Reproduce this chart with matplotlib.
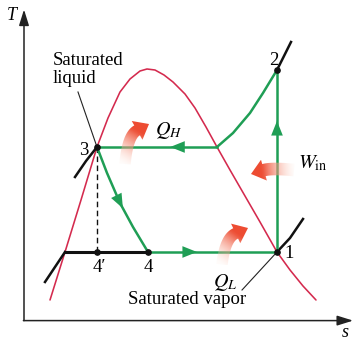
import numpy as np
import matplotlib
matplotlib.use('Agg')
import matplotlib.pyplot as plt
from matplotlib.patches import Polygon

plt.rcParams['font.family'] = ['Liberation Serif', 'DejaVu Serif']
plt.rcParams['mathtext.fontset'] = 'stix'

# ---------------- data (s, T in arbitrary units) ----------------
dome_s = [0.867, 1.367, 1.9, 2.433, 2.8, 3.2, 3.533, 3.867, 4.1, 4.367, 4.667,
          4.967, 5.367, 5.7, 6.067, 6.433, 6.867, 7.367, 7.867, 8.433, 8.867, 9.3, 9.733]
dome_T = [0.667, 2.267, 4.0, 5.767, 6.733, 7.6, 8.033, 8.3, 8.367, 8.333, 8.167,
          7.933, 7.533, 7.067, 6.433, 5.767, 5.0, 4.133, 3.267, 2.267, 1.667, 1.133, 0.667]

T_low, T_high = 2.267, 5.767
s1, T1 = 8.433, T_low
s2, T2 = 8.433, 8.333
s2a = 6.433          # saturated vapor at high pressure
s3 = 2.433
s4 = 4.133
s4p = 2.433
sf_low = 1.367       # saturated liquid at low pressure

superheat_s = [6.433, 6.967, 7.533, 7.967, 8.433]
superheat_T = [5.767, 6.233, 6.9, 7.567, 8.333]
ext_hi_s = [8.433, 8.667, 8.9]
ext_hi_T = [8.333, 8.8, 9.267]
ext_lo_s = [8.433, 8.867, 9.3]
ext_lo_T = [2.267, 2.733, 3.367]
liq_hi_s = [2.433, 2.067, 1.7]
liq_hi_T = [5.767, 5.3, 4.767]
liq_lo_s = [1.367, 0.7]
liq_lo_T = [2.267, 1.267]
throttle_s = [2.433, 2.767, 3.2, 3.633, 4.133]
throttle_T = [5.767, 4.9, 3.9, 3.1, 2.267]

point_labels = ['1', '2', '3', '4', '4\u2032']

GREEN = '#1f9e55'
RED = '#d42a4e'

fig = plt.figure(figsize=(3.59, 3.42), dpi=100)
ax = fig.add_axes([0, 0, 1, 1])
XL = (-0.8, 11.1667)
YL = (-0.7333, 10.6667)


def bezier(p0, p1, p2, n=40):
    t = np.linspace(0, 1, n)[:, None]
    return (1 - t) ** 2 * p0 + 2 * (1 - t) * t * p1 + t ** 2 * p2


def grad_arrow(ax, tail, ctrl, tip, ws, wh, hl, z=6):
    tail, ctrl, tip = (np.asarray(a, float) for a in (tail, ctrl, tip))
    d = tip - ctrl
    d /= np.linalg.norm(d)
    base = tip - d * hl
    pts = bezier(tail, ctrl, base)
    tang = np.gradient(pts, axis=0)
    tang /= np.linalg.norm(tang, axis=1)[:, None]
    nrm = np.stack([-tang[:, 1], tang[:, 0]], axis=1)
    left = pts + nrm * ws / 2
    right = pts - nrm * ws / 2
    nb = nrm[-1]
    poly = np.vstack([left, base + nb * wh / 2, tip, base - nb * wh / 2, right[::-1]])
    patch = Polygon(poly, closed=True, fc='none', ec='none')
    ax.add_patch(patch)
    xmin, ymin = poly.min(0)
    xmax, ymax = poly.max(0)
    nx, ny = 100, 100
    X, Y = np.meshgrid(np.linspace(xmin, xmax, nx), np.linspace(ymin, ymax, ny))
    v = tip - tail
    proj = ((X - tail[0]) * v[0] + (Y - tail[1]) * v[1]) / (v @ v)
    f = np.clip(proj, 0, 1)
    c0 = np.array([1.0, 0.86, 0.80])
    c1 = np.array([0.93, 0.30, 0.20])
    img = np.zeros((ny, nx, 4))
    for k in range(3):
        img[..., k] = c0[k] + (c1[k] - c0[k]) * np.clip(f * 1.3, 0, 1)
    img[..., 3] = 0.1 + 0.9 * np.clip(f * 1.4, 0, 1)
    im = ax.imshow(img, extent=(xmin, xmax, ymin, ymax), origin='lower',
                   interpolation='bilinear', zorder=z)
    im.set_clip_path(patch)


def path_arrow(ax, xs, ys, frac, color, size=14):
    xs = np.asarray(xs, float)
    ys = np.asarray(ys, float)
    seg = np.hypot(np.diff(xs), np.diff(ys))
    cum = np.concatenate([[0], np.cumsum(seg)])
    L = cum[-1] * frac
    tip = (np.interp(L, cum, xs), np.interp(L, cum, ys))
    back = (np.interp(L - 0.3, cum, xs), np.interp(L - 0.3, cum, ys))
    ax.annotate('', xy=tip, xytext=back,
                arrowprops=dict(arrowstyle='-|>,head_length=0.75,head_width=0.3',
                                color=color, lw=0, shrinkA=0, shrinkB=0,
                                mutation_scale=size), zorder=5)


# axes arrows
ax.annotate('', xy=(0, 10.35), xytext=(0, -0.02),
            arrowprops=dict(arrowstyle='-|>,head_length=0.8,head_width=0.25',
                            color='#222222', lw=1.1, shrinkA=0, shrinkB=0, mutation_scale=12))
ax.annotate('', xy=(10.97, -0.02), xytext=(-0.02, -0.02),
            arrowprops=dict(arrowstyle='-|>,head_length=0.8,head_width=0.25',
                            color='#222222', lw=1.1, shrinkA=0, shrinkB=0, mutation_scale=12))
ax.text(-0.567, 10.0, 'T', fontsize=13, style='italic', ha='left', va='baseline')
ax.text(10.7, -0.567, 's', fontsize=13, style='italic', ha='center', va='baseline')

# vapor dome
ax.plot(dome_s, dome_T, color=RED, lw=1.15, zorder=2, solid_capstyle='round',
        solid_joinstyle='round')

# black constant-pressure line pieces
ax.plot(liq_hi_s, liq_hi_T, color='#111111', lw=1.8, zorder=3)
ax.plot(liq_lo_s, liq_lo_T, color='#111111', lw=1.8, zorder=3)
ax.plot(ext_hi_s, ext_hi_T, color='#111111', lw=1.8, zorder=3)
ax.plot(ext_lo_s, ext_lo_T, color='#111111', lw=1.8, zorder=3)
ax.plot([sf_low, s4], [T_low, T_low], color='#111111', lw=2.2, zorder=3)

# dashed line 3 -> 4'
ax.plot([s3, s4p], [T_high, T_low], color='#111111', lw=1.0, ls=(0, (4, 2.5)), zorder=3)

# cycle (green)
ax.plot([s4, s1], [T_low, T1], color=GREEN, lw=1.8, zorder=4)
ax.plot([s1, s2], [T1, T2], color=GREEN, lw=1.8, zorder=4)
ax.plot(superheat_s, superheat_T, color=GREEN, lw=1.8, zorder=4)
ax.plot([s2a, s3], [T_high, T_high], color=GREEN, lw=1.8, zorder=4)
ax.plot(throttle_s, throttle_T, color=GREEN, lw=1.8, zorder=4)

path_arrow(ax, [s4, s1], [T_low, T_low], 0.38, GREEN)
path_arrow(ax, [s1, s2], [T1, T2], 0.72, GREEN)
path_arrow(ax, [s2a, s3], [T_high, T_high], 0.39, GREEN)
path_arrow(ax, throttle_s, throttle_T, 0.57, GREEN)

# state points
ax.plot([s1, s2, s3, s4, s4p], [T1, T2, T_high, T_low, T_low], 'o', color='#111111',
        ms=3.8, zorder=7)

# labels
fs = 13.5
ax.text(8.833, 2.067, point_labels[0], fontsize=fs, ha='center', va='baseline')
ax.text(8.317, 8.5, point_labels[1], fontsize=fs, ha='center', va='baseline')
ax.text(2.0, 5.5, point_labels[2], fontsize=fs, ha='center', va='baseline')
ax.text(4.15, 1.6, point_labels[3], fontsize=fs, ha='center', va='baseline')
ax.text(2.5, 1.6, point_labels[4], fontsize=fs, ha='center', va='baseline')

ax.text(0.957, 8.5, 'Saturated', fontsize=fs, ha='left', va='baseline')
ax.text(0.957, 7.9, 'liquid', fontsize=fs, ha='left', va='baseline')
ax.plot([1.8, s3], [7.6, T_high], color='#222222', lw=0.8, zorder=3)

ax.text(3.467, 0.533, 'Saturated vapor', fontsize=fs, ha='left', va='baseline')
ax.plot([7.267, s1], [1.0, T1], color='#222222', lw=0.8, zorder=3)

ax.text(4.367, 6.167, r'$Q_H$', fontsize=14.5, ha='left', va='baseline')
ax.text(9.133, 5.067, r'$W_{\rm in}$', fontsize=14.5, ha='left', va='baseline')
ax.text(6.3, 1.1, r'$Q_L$', fontsize=14.5, ha='left', va='baseline')

# heat / work arrows
grad_arrow(ax, (3.367, 5.2), (3.45, 6.15), (4.167, 6.533), 0.38, 0.72, 0.45)
grad_arrow(ax, (6.6, 1.85), (6.7, 2.73), (7.467, 3.067), 0.38, 0.72, 0.45)
grad_arrow(ax, (9.0, 5.0), (8.25, 5.07), (7.567, 4.867), 0.42, 0.72, 0.45)

ax.set_xlim(*XL)
ax.set_ylim(*YL)
ax.set_aspect('auto')
ax.axis('off')

fig.savefig('out.png', dpi=100)
